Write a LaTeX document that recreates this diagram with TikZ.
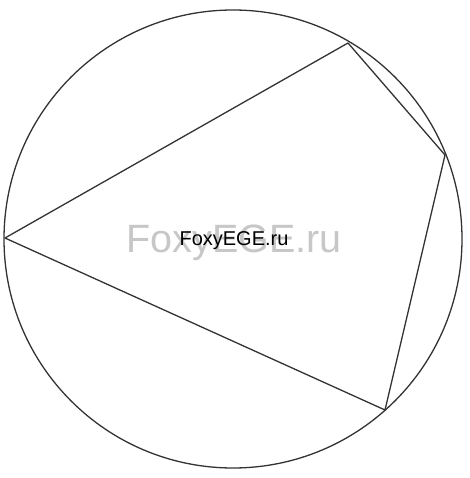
\documentclass[tikz,border=0pt]{standalone}
\usepackage{fontspec}
\setmainfont{Liberation Sans}
\begin{document}
\begin{tikzpicture}[x=1pt,y=-1pt,
  edge/.style={line width=1.3pt, draw=black!80, line join=round},
  wm/.style={text=black!22, font=\fontsize{39.5}{40}\selectfont, inner sep=0pt},
  lbl/.style={text=black, font=\fontsize{20}{21}\selectfont, inner sep=0pt}]
\useasboundingbox (0,0) rectangle (469,478);
\fill[white] (0,0) rectangle (469,478);
\coordinate (O) at (233,239);
\draw[edge] (O) circle[radius=229];
\coordinate (A) at (5,238);
\coordinate (B) at (348,43);
\coordinate (C) at (445,155);
\coordinate (D) at (385,410);
\draw[edge] (A) -- (B) -- (C) -- (D) -- cycle;
\node[wm] (w) at (234,243) {FoxyEGE.ru};
\node[lbl] (t) at (234,241) {FoxyEGE.ru};
\end{tikzpicture}
\end{document}
